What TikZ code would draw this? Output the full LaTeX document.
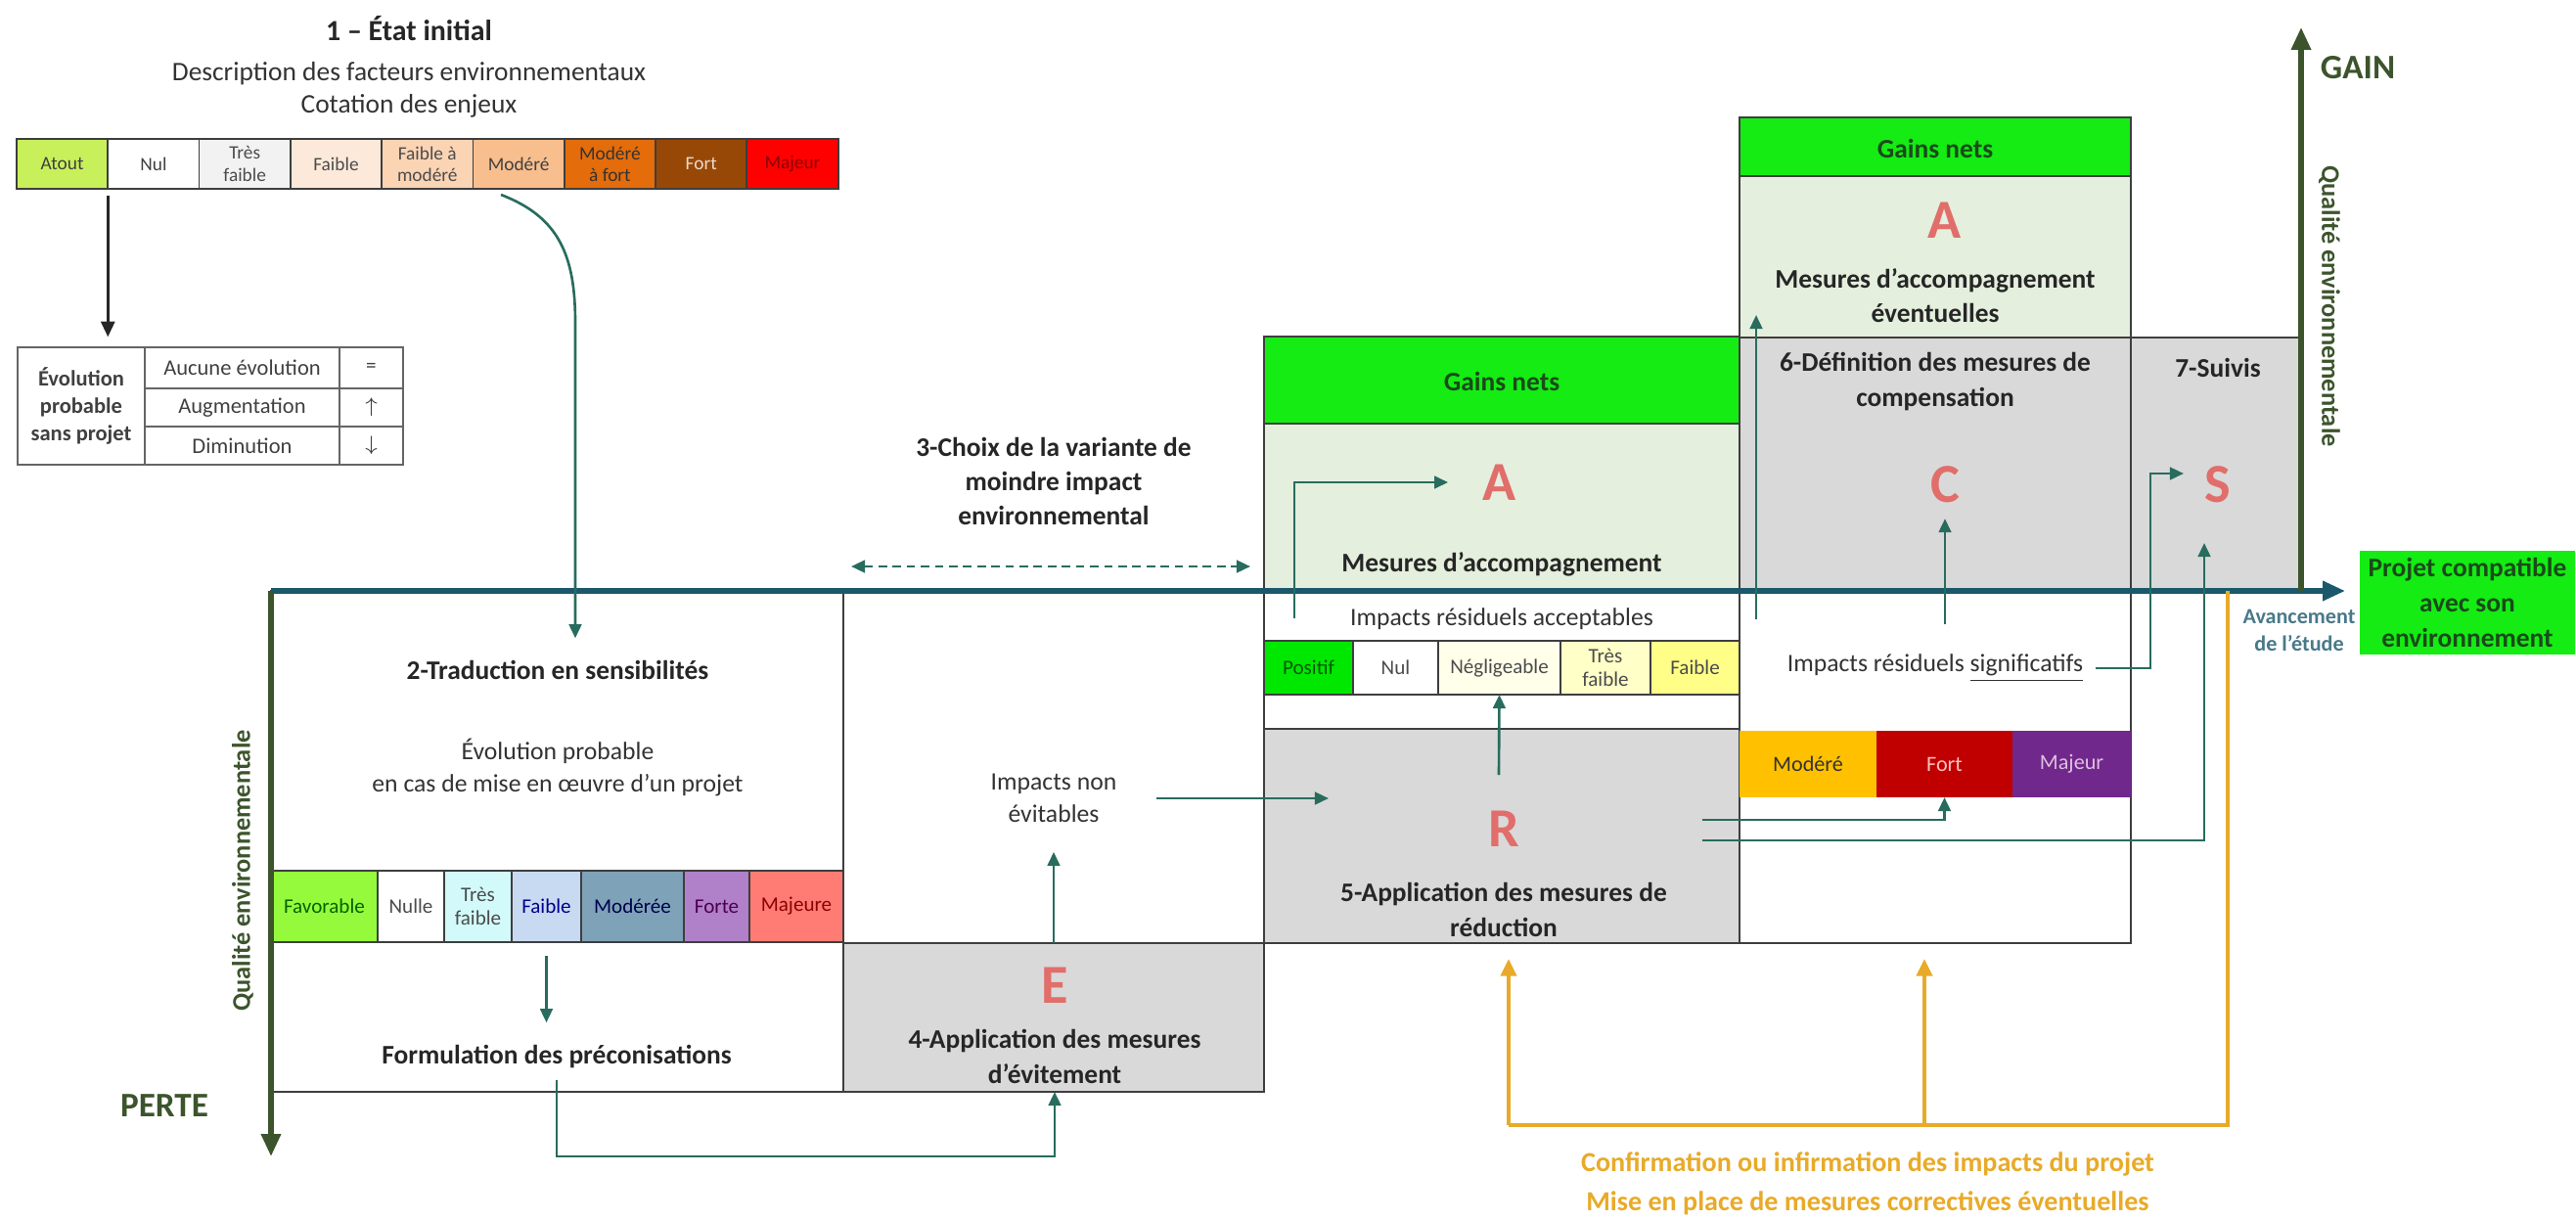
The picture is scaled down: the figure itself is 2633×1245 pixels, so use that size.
\documentclass[tikz,border=0pt]{standalone}
\usepackage{fontspec}
\setmainfont{Carlito}
\usetikzlibrary{arrows.meta,positioning}
\definecolor{bord}{RGB}{62,62,62}
\definecolor{axebleu}{RGB}{28,88,108}
\definecolor{axevert}{RGB}{60,84,44}
\definecolor{fleche}{RGB}{40,108,94}
\definecolor{gris}{RGB}{217,217,217}
\definecolor{vertpale}{RGB}{228,239,221}
\definecolor{vertvif}{RGB}{20,236,20}
\definecolor{vertfonce}{RGB}{26,74,26}
\definecolor{lettre}{RGB}{225,110,106}
\definecolor{ocre}{RGB}{232,170,40}
\definecolor{atout}{RGB}{200,240,90}
\definecolor{tresfaible}{RGB}{242,242,242}
\definecolor{faible}{RGB}{253,233,217}
\definecolor{faiblemod}{RGB}{251,212,180}
\definecolor{modere}{RGB}{249,190,142}
\definecolor{moderefort}{RGB}{228,108,10}
\definecolor{fort}{RGB}{152,72,6}
\definecolor{majeur}{RGB}{255,0,0}
\definecolor{favorable}{RGB}{150,250,60}
\definecolor{cyanpale}{RGB}{210,250,250}
\definecolor{bleupale}{RGB}{200,218,242}
\definecolor{bleugris}{RGB}{126,162,184}
\definecolor{lilas}{RGB}{176,128,200}
\definecolor{saumon}{RGB}{255,124,116}
\definecolor{positif}{RGB}{0,232,0}
\definecolor{jaunepale}{RGB}{255,255,234}
\definecolor{jauneclair}{RGB}{255,255,200}
\definecolor{jaunevif}{RGB}{255,255,136}
\definecolor{orangevif}{RGB}{255,192,0}
\definecolor{rougefonce}{RGB}{192,0,0}
\definecolor{pourpre}{RGB}{112,40,140}
\newcommand\taille[2]{\fontsize{#1}{#2}\selectfont}

\begin{document}
\begin{tikzpicture}[x=0.01cm,y=-0.01cm,
  cadre/.style={draw=bord,line width=0.6pt},
  cellule/.style={draw=bord,line width=0.5pt,inner sep=0pt,outer sep=0pt,align=center,font=\taille{6}{6.8},text=black!75},
  gras/.style={align=center,font=\taille{7.8}{10}\bfseries,text=black!85},
  texte/.style={align=center,font=\taille{7.3}{9.4},text=black!80},
  lettrine/.style={inner sep=2pt,font=\taille{16}{16}\bfseries,text=lettre},
  lien/.style={draw=fleche,line width=0.75pt,-{Triangle[length=4pt,width=3.6pt]}},
  axe/.style={line width=1.5pt,-{Triangle[length=6.5pt,width=5.5pt]}},
  retour/.style={draw=ocre,line width=1.2pt}]
\useasboundingbox (0,0) rectangle (2633,1245);

\fill[gris] (862,964) rectangle (1292,1116);
\fill[vertvif] (1292,344) rectangle (1778,433);
\fill[vertpale] (1292,433) rectangle (1778,604);
\fill[gris] (1292,745) rectangle (1778,964);
\fill[vertvif] (1778,120) rectangle (2178,180);
\fill[vertpale] (1778,180) rectangle (2178,345);
\fill[gris] (1778,345) rectangle (2352,604);
\draw[cadre] (277,604) rectangle (862,1116) (862,604) rectangle (1292,1116) (862,964) -- (1292,964);
\draw[cadre] (1292,344) rectangle (1778,964) (1292,433) -- (1778,433) (1292,745) -- (1778,745);
\draw[cadre] (1778,120) rectangle (2178,964) (1778,180) -- (2178,180) (1778,345) -- (2178,345) (2178,345) rectangle (2352,604);

\node[font=\taille{8.5}{10}\bfseries,text=black!85] (etat) at (418,29) {1 – État initial};
\node[texte,font=\taille{7.8}{9.4}] (descr) at (418,75) {Description des facteurs environnementaux};
\node[texte,font=\taille{7.8}{9.4}] (cotation) at (418,108) {Cotation des enjeux};
\foreach \nom/\coul/\tcoul [count=\i from 0] in {Atout/atout/black!75, Nul/white/black!75, {Très\\faible}/tresfaible/black!70, Faible/faible/black!70, {Faible à\\modéré}/faiblemod/black!70, Modéré/modere/black!75, {Modéré\\à fort}/moderefort/black!80, Fort/fort/white!80!fort, Majeur/majeur/red!55!black}
  \node[cellule,fill=\coul,text=\tcoul,minimum width=0.933cm,minimum height=0.51cm,font=\taille{5.5}{6.3}] (enjeu\i) at (63.6+93.3*\i,167.5) {\nom};

\node[cellule,draw=bord!80,minimum width=1.3cm,minimum height=1.2cm,font=\taille{6.4}{8}\bfseries] (evo) at (83,415) {Évolution\\probable\\sans projet};
\node[cellule,draw=bord!80,minimum width=1.99cm,minimum height=0.42cm,font=\taille{6.4}{7}] (aucune) at (247.5,376) {Aucune évolution};
\node[cellule,draw=bord!80,minimum width=1.99cm,minimum height=0.39cm,font=\taille{6.4}{7}] (augm) at (247.5,416.5) {Augmentation};
\node[cellule,draw=bord!80,minimum width=1.99cm,minimum height=0.39cm,font=\taille{6.4}{7}] (dimi) at (247.5,455.5) {Diminution};
\node[cellule,draw=bord!80,minimum width=0.65cm,minimum height=0.42cm] (egal) at (379.5,376) {=};
\node[cellule,draw=bord!80,minimum width=0.65cm,minimum height=0.39cm] (haut) at (379.5,416.5) {$\uparrow$};
\node[cellule,draw=bord!80,minimum width=0.65cm,minimum height=0.39cm] (bas) at (379.5,455.5) {$\downarrow$};

\foreach \xa/\xb/\coul/\nom/\tcoul [count=\k] in {277/386/favorable/Favorable/green!40!black, 386/454/white/Nulle/black!70, 454/523/cyanpale/{Très\\faible}/black!70, 523/594/bleupale/Faible/blue!55!black, 594/699/bleugris/Modérée/blue!30!black, 699/766/lilas/Forte/violet!60!black, 766/862/saumon/Majeure/red!55!black}
  \node[cellule,fill=\coul,text=\tcoul,minimum width=(\xb-\xa)*0.01cm,minimum height=0.73cm] (sens\k) at ({(\xa+\xb)/2},926.5) {\nom};

\foreach \xa/\xb/\coul/\nom/\tcoul [count=\k] in {1292/1383/positif/Positif/green!35!black, 1383/1470/white/Nul/black!70, 1470/1595/jaunepale/Négligeable/black!70, 1595/1687/jauneclair/{Très\\faible}/black!70, 1687/1778/jaunevif/Faible/black!70}
  \node[cellule,fill=\coul,text=\tcoul,minimum width=(\xb-\xa)*0.01cm,minimum height=0.55cm] (accept\k) at ({(\xa+\xb)/2},682.5) {\nom};

\foreach \xa/\xb/\coul/\nom/\tcoul [count=\k] in {1778/1918/orangevif/Modéré/black!80, 1918/2057/rougefonce/Fort/red!25, 2057/2178/pourpre/Majeur/violet!25}
  \node[cellule,draw=none,fill=\coul,text=\tcoul,minimum width=(\xb-\xa)*0.01cm,minimum height=0.68cm,font=\taille{6.3}{7}] (risque\k) at ({(\xa+\xb)/2},781) {\nom};

\coordinate (O) at (277,604);
\coordinate (finaxe) at (2397,604);
\coordinate (basaxe) at (277,1182);
\coordinate (pied) at (2352,604);
\coordinate (sommet) at (2352,28);
\draw[axe,draw=axebleu,fill=axebleu] (O) -- (finaxe);
\draw[axe,draw=axevert,fill=axevert] (O) -- (basaxe);
\draw[axe,draw=axevert,fill=axevert] (pied) -- (sommet);
\node[font=\taille{10}{12}\bfseries,text=axevert] (perte) at (168,1130) {PERTE};
\node[font=\taille{10}{12}\bfseries,text=axevert] (gain) at (2410,69) {GAIN};
\node[rotate=90,font=\taille{7.5}{9}\bfseries,text=axevert] (qual1) at (248,890) {Qualité environnementale};
\node[rotate=-90,font=\taille{7.5}{9}\bfseries,text=axevert] (qual2) at (2381,313) {Qualité environnementale};
\node[align=center,font=\taille{6.3}{8}\bfseries,text=axebleu!80] (avance) at (2350,644) {Avancement\\de l'étude};
\node[fill=vertvif,minimum width=2.19cm,minimum height=1.05cm,inner sep=0pt,align=center,font=\taille{7.8}{10.2}\bfseries,text=vertfonce] (compat) at (2522,616) {Projet compatible\\avec son\\environnement};

\node[gras] (trad) at (570,685) {2-Traduction en sensibilités};
\node[texte] (evol) at (570,784) {Évolution probable\\en cas de mise en œuvre d'un projet};
\node[gras] (formu) at (569,1080) {Formulation des préconisations};
\node[gras] (choix) at (1077,492) {3-Choix de la variante de\\moindre impact\\environnemental};
\node[texte] (inev) at (1077,816) {Impacts non\\évitables};
\node[lettrine] (lettreE) at (1078,1007) {E};
\node[gras] (appE) at (1078,1080) {4-Application des mesures\\d'évitement};
\node[gras,text=vertfonce] (gains1) at (1535,390) {Gains nets};
\node[lettrine] (lettreA1) at (1533,493) {A};
\node[gras] (acc1) at (1535,577) {Mesures d'accompagnement};
\node[texte] (accept) at (1535,633) {Impacts résiduels acceptables};
\node[lettrine] (lettreR) at (1537,847) {R};
\node[gras] (appR) at (1537,930) {5-Application des mesures de\\réduction};
\node[gras,text=vertfonce] (gains2) at (1978,152) {Gains nets};
\node[lettrine] (lettreA2) at (1988,225) {A};
\node[gras] (acc2) at (1978,302) {Mesures d'accompagnement\\éventuelles};
\node[gras] (defC) at (1978,390) {6-Définition des mesures de\\compensation};
\node[lettrine] (lettreC) at (1988,495) {C};
\node[texte] (signif) at (1978,683) {Impacts résiduels \underline{significatifs}};
\node[gras] (suivis) at (2267,376) {7-Suivis};
\node[lettrine] (lettreS) at (2267,495) {S};
\node[align=center,font=\taille{8}{11.4}\bfseries,text=ocre] (confirm) at (1909,1210) {Confirmation ou infirmation des impacts du projet\\Mise en place de mesures correctives éventuelles};

\coordinate (c0) at (512,199);
\coordinate (c1) at (588,330);
\coordinate (coinE) at (1078,1182);
\coordinate (basE) at (1078,1116);
\coordinate (hautE) at (1077,964);
\coordinate (versR) at (1358,813);
\coordinate (d1) at (870,579);
\coordinate (d2) at (1278,579);
\coordinate (a0) at (1323,632);
\coordinate (depR) at (1532,792);
\coordinate (r1) at (1740,838);
\coordinate (r2) at (1740,859);
\coordinate (s1) at (2253,555);
\coordinate (g0) at (1795,633);
\coordinate (g1) at (1795,322);
\coordinate (coudeS) at (2198,484);
\coordinate (pointeS) at (2232,484);
\coordinate (j1) at (1542,1150);
\coordinate (j2) at (1967,1150);
\coordinate (j3) at (2277,1150);
\coordinate (hautJ1) at (1542,980);
\coordinate (hautJ2) at (1967,980);
\coordinate (finJ) at (2277,604);

\draw[draw=black!85,line width=0.8pt,-{Triangle[length=4.5pt,width=4pt]},shorten <=2pt,shorten >=3pt] (enjeu0.south east) -- (enjeu0.south east |- evo.north);
\draw[lien,shorten >=3pt] (c0) .. controls (572,222) and (588,262) .. (c1) -- (trad.north -| c1);
\draw[lien,shorten <=4pt,shorten >=3pt] (sens4.south) -- (sens4.south |- formu.north);
\draw[lien] (formu.south) |- (coinE) -- (basE);
\draw[lien,dashed,dash pattern=on 2.5pt off 1.6pt,{Triangle[length=4pt,width=3.6pt]}-{Triangle[length=4pt,width=3.6pt]}] (d1) -- (d2);
\draw[lien,shorten >=5pt] (hautE) -- (inev.south);
\draw[lien,shorten <=8pt] (inev.east) -- (inev.east -| versR);
\draw[lien,shorten >=8pt] (a0) |- (lettreA1.west);
\draw[lien] (depR) -- (accept3.south);
\draw[lien] (r1) -| (risque2.south);
\draw[lien] (r2) -| (s1);
\draw[lien] (g0) -- (g1);
\draw[lien,shorten <=5pt,shorten >=2.5pt] (signif.north -| lettreC) -- (lettreC.south);
\draw[lien] (signif.east) -| (coudeS) -- (pointeS);
\draw[retour] (j1) -- (j3) -- (finJ);
\draw[retour,-{Triangle[length=5pt,width=4.5pt]}] (j1) -- (hautJ1);
\draw[retour,-{Triangle[length=5pt,width=4.5pt]}] (j2) -- (hautJ2);
\end{tikzpicture}
\end{document}
